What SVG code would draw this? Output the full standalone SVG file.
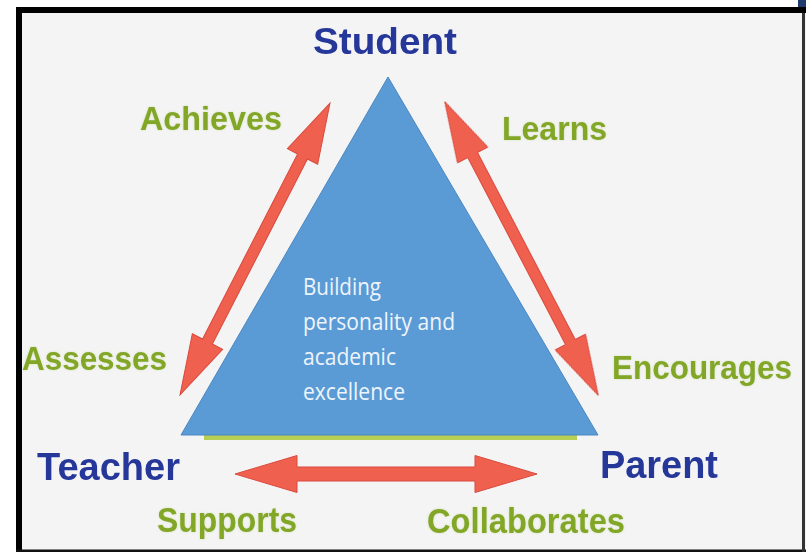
<svg xmlns="http://www.w3.org/2000/svg" width="806" height="552" viewBox="0 0 806 552">
  <defs>
    <filter id="soft" x="-5%" y="-5%" width="110%" height="110%">
      <feGaussianBlur stdDeviation="0.7"/>
    </filter>
    <filter id="glow" x="-5%" y="-20%" width="110%" height="140%">
      <feGaussianBlur in="SourceAlpha" stdDeviation="1.2" result="b"/>
      <feFlood flood-color="#b9cf7a" flood-opacity="0.5"/>
      <feComposite in2="b" operator="in" result="s"/>
      <feMerge><feMergeNode in="s"/><feMergeNode in="SourceGraphic"/></feMerge>
    </filter>
  </defs>
  <style>
    .role { font-family: "Liberation Sans", Arial, sans-serif; font-weight: bold; fill: #26379a; }
    .verb { font-family: "Liberation Sans", Arial, sans-serif; font-weight: bold; fill: #82a628; }
    .inner { font-family: "Open Sans", "Noto Sans", sans-serif; font-size: 23px; fill: #eef4fb; }
    .arrow { fill: #f0604f; stroke: #d9493c; stroke-width: 1; }
  </style>

  <rect x="0" y="0" width="806" height="552" fill="#ffffff"/>
  <rect x="16" y="7" width="790" height="545" fill="#f4f4f4"/>

  <g id="hub">
    <rect x="204" y="435" width="373" height="5" fill="#b8cf55" filter="url(#soft)"/>
    <polygon points="388,77 181,435 598,435" fill="#5b9bd5" stroke="#4a87c2" stroke-width="1"/>
    <text class="inner" x="303" y="295" textLength="78" lengthAdjust="spacingAndGlyphs">Building</text>
    <text class="inner" x="303" y="330" textLength="152" lengthAdjust="spacingAndGlyphs">personality and</text>
    <text class="inner" x="303" y="365" textLength="93" lengthAdjust="spacingAndGlyphs">academic</text>
    <text class="inner" x="303" y="400" textLength="102" lengthAdjust="spacingAndGlyphs">excellence</text>
  </g>

  <g id="connectors" filter="url(#soft)">
    <polygon class="arrow" transform="translate(255,249) rotate(-62.8)" points="-164,0 -104,-17 -104,-5.5 104,-5.5 104,-17 164,0 104,17 104,5.5 -104,5.5 -104,17"/>
    <polygon class="arrow" transform="translate(521.5,248.5) rotate(62.4)" points="-165.5,0 -105.5,-17 -105.5,-5.5 105.5,-5.5 105.5,-17 165.5,0 105.5,17 105.5,5.5 -105.5,5.5 -105.5,17"/>
    <polygon class="arrow" transform="translate(386,474)" points="-151,0 -89,-18.5 -89,-7 89,-7 89,-18.5 151,0 89,18.5 89,7 -89,7 -89,18.5"/>
  </g>

  <g id="student">
    <text class="role" x="313" y="54" font-size="37" textLength="144" lengthAdjust="spacingAndGlyphs">Student</text>
  </g>
  <g id="teacher">
    <text class="role" x="37" y="480" font-size="39" textLength="143" lengthAdjust="spacingAndGlyphs">Teacher</text>
  </g>
  <g id="parent">
    <text class="role" x="600" y="478" font-size="39" textLength="118" lengthAdjust="spacingAndGlyphs">Parent</text>
  </g>

  <g id="labels" filter="url(#glow)">
    <text class="verb" x="140" y="130" font-size="33" textLength="142" lengthAdjust="spacingAndGlyphs">Achieves</text>
    <text class="verb" x="502" y="140" font-size="33" textLength="105" lengthAdjust="spacingAndGlyphs">Learns</text>
    <text class="verb" x="22" y="370" font-size="33" textLength="145" lengthAdjust="spacingAndGlyphs">Assesses</text>
    <text class="verb" x="612" y="379" font-size="34" textLength="180" lengthAdjust="spacingAndGlyphs">Encourages</text>
    <text class="verb" x="157" y="532" font-size="35" textLength="140" lengthAdjust="spacingAndGlyphs">Supports</text>
    <text class="verb" x="427" y="533" font-size="35" textLength="198" lengthAdjust="spacingAndGlyphs">Collaborates</text>
  </g>

  <g id="frame">
    <rect x="16" y="7" width="6" height="545" fill="#000000"/>
    <rect x="16" y="7" width="790" height="6" fill="#000000"/>
    <rect x="16" y="549.5" width="790" height="2.5" fill="#111111"/>
    <rect x="802" y="13" width="3" height="539" fill="#333333"/>
    <rect x="798" y="0" width="8" height="7" fill="#1f3d6b"/>
  </g>
</svg>
